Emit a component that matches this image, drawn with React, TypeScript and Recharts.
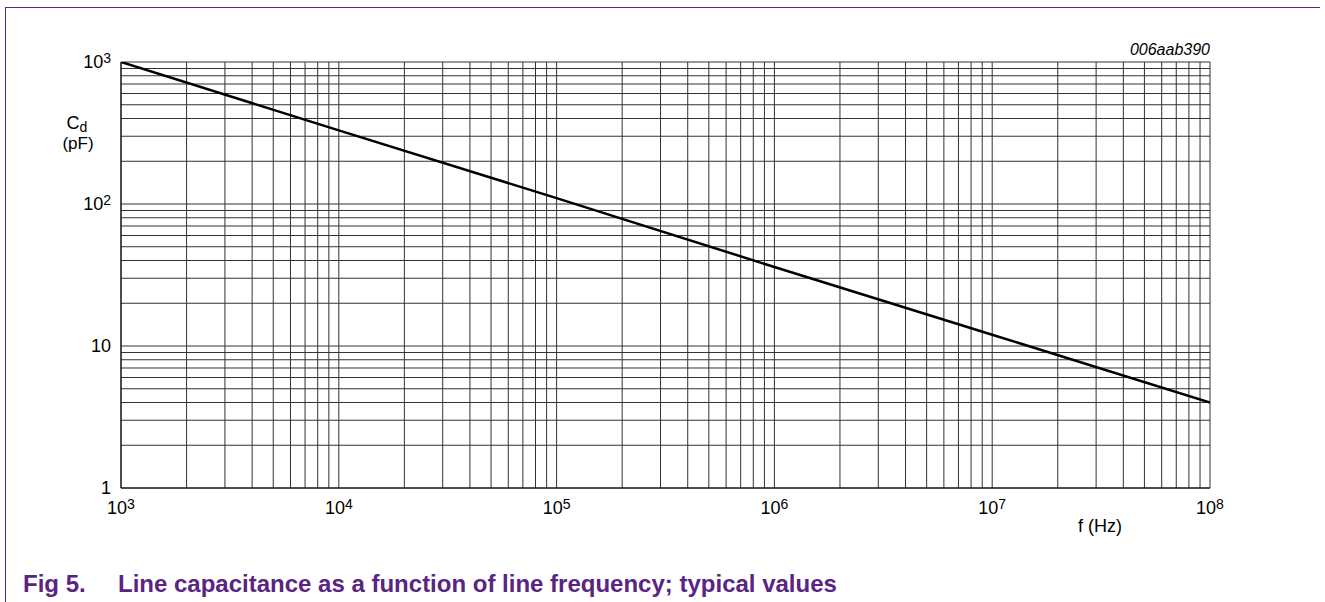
import React from "react";
import { LineChart, Line, XAxis, YAxis, CartesianGrid } from "recharts";

// frequency (Hz) and line capacitance (pF)
const freqs = [1e3, 1e4, 1e5, 1e6, 1e7, 1e8];
const capacitance = [1000, 330, 110, 36, 12, 4];

const xTicks = [
  1e3, 2e3, 3e3, 4e3, 5e3, 6e3, 7e3, 8e3, 9e3,
  1e4, 2e4, 3e4, 4e4, 5e4, 6e4, 7e4, 8e4, 9e4,
  1e5, 2e5, 3e5, 4e5, 5e5, 6e5, 7e5, 8e5, 9e5,
  1e6, 2e6, 3e6, 4e6, 5e6, 6e6, 7e6, 8e6, 9e6,
  1e7, 2e7, 3e7, 4e7, 5e7, 6e7, 7e7, 8e7, 9e7,
  1e8,
];
const yTicks = [
  1, 2, 3, 4, 5, 6, 7, 8, 9,
  10, 20, 30, 40, 50, 60, 70, 80, 90,
  100, 200, 300, 400, 500, 600, 700, 800, 900,
  1000,
];

const data = freqs.map((f, i) => ({ f, c: capacitance[i] }));

const FONT = "'Liberation Sans', Arial, sans-serif";
const PURPLE = "#5a2483";

function isDecade(v: number) {
  const e = Math.log10(v);
  return Math.abs(e - Math.round(e)) < 1e-9;
}

// 10^n label with superscript exponent
function PowLabel({ x, y, exp, anchor }: any) {
  const common = { x, y, textAnchor: anchor, fontSize: 18, fontFamily: FONT, fill: "#000" };
  if (exp === 0) return <text {...common}>1</text>;
  if (exp === 1) return <text {...common}>10</text>;
  return (
    <text {...common}>
      10
      <tspan dy={-5} fontSize={14}>
        {exp}
      </tspan>
    </text>
  );
}

function XTick(props: any) {
  const { x, y, payload } = props;
  if (!isDecade(payload.value)) return null;
  const exp = Math.round(Math.log10(payload.value));
  return <PowLabel x={x} y={y + 18} exp={exp} anchor="middle" />;
}

function YTick(props: any) {
  const { x, y, payload } = props;
  if (!isDecade(payload.value)) return null;
  const exp = Math.round(Math.log10(payload.value));
  return <PowLabel x={x - 2} y={y + 6} exp={exp} anchor="end" />;
}

export default function App() {
  return (
    <div style={{ position: "absolute", left: 0, top: 0, width: 1325, height: 602, background: "#fff" }}>
      {/* purple frame */}
      <div style={{ position: "absolute", left: 5, top: 7, width: 1315, height: 1, background: PURPLE }} />
      <div style={{ position: "absolute", left: 5, top: 7, width: 1, height: 595, background: PURPLE }} />

      <div style={{ position: "absolute", left: 0, top: 0 }}>
        <LineChart
          width={1325}
          height={602}
          data={data}
          margin={{ top: 62, right: 115, bottom: 74, left: 61 }}
        >
          <CartesianGrid stroke="#333" strokeWidth={1} />
          <XAxis
            dataKey="f"
            type="number"
            scale="log"
            domain={[1e3, 1e8]}
            ticks={xTicks}
            interval={0}
            tick={<XTick />}
            tickLine={false}
            axisLine={{ stroke: "#000" }}
            height={40}
            allowDataOverflow
          />
          <YAxis
            type="number"
            scale="log"
            domain={[1, 1000]}
            ticks={yTicks}
            interval={0}
            tick={<YTick />}
            tickLine={false}
            axisLine={{ stroke: "#000" }}
            width={60}
            allowDataOverflow
          />
          <Line
            dataKey="c"
            type="linear"
            stroke="#000"
            strokeWidth={2.5}
            dot={false}
            isAnimationActive={false}
          />
          <text x={77} y={129} textAnchor="middle" fontSize={18} fontFamily={FONT} fill="#000">
            C
            <tspan dy={3} fontSize={14}>d</tspan>
          </text>
          <text x={78} y={149} textAnchor="middle" fontSize={17} fontFamily={FONT} fill="#000">
            (pF)
          </text>
          <text x={1100} y={532} textAnchor="middle" fontSize={18} fontFamily={FONT} fill="#000">
            f (Hz)
          </text>
          <text
            x={1210}
            y={55}
            textAnchor="end"
            fontSize={16}
            fontStyle="italic"
            fontFamily={FONT}
            fill="#000"
          >
            006aab390
          </text>
          <text x={23} y={592} fontSize={24} fontWeight="bold" fontFamily={FONT} fill={PURPLE}>
            Fig 5.
          </text>
          <text x={118} y={592} fontSize={24} fontWeight="bold" fontFamily={FONT} fill={PURPLE}>
            Line capacitance as a function of line frequency; typical values
          </text>
        </LineChart>
      </div>
    </div>
  );
}
